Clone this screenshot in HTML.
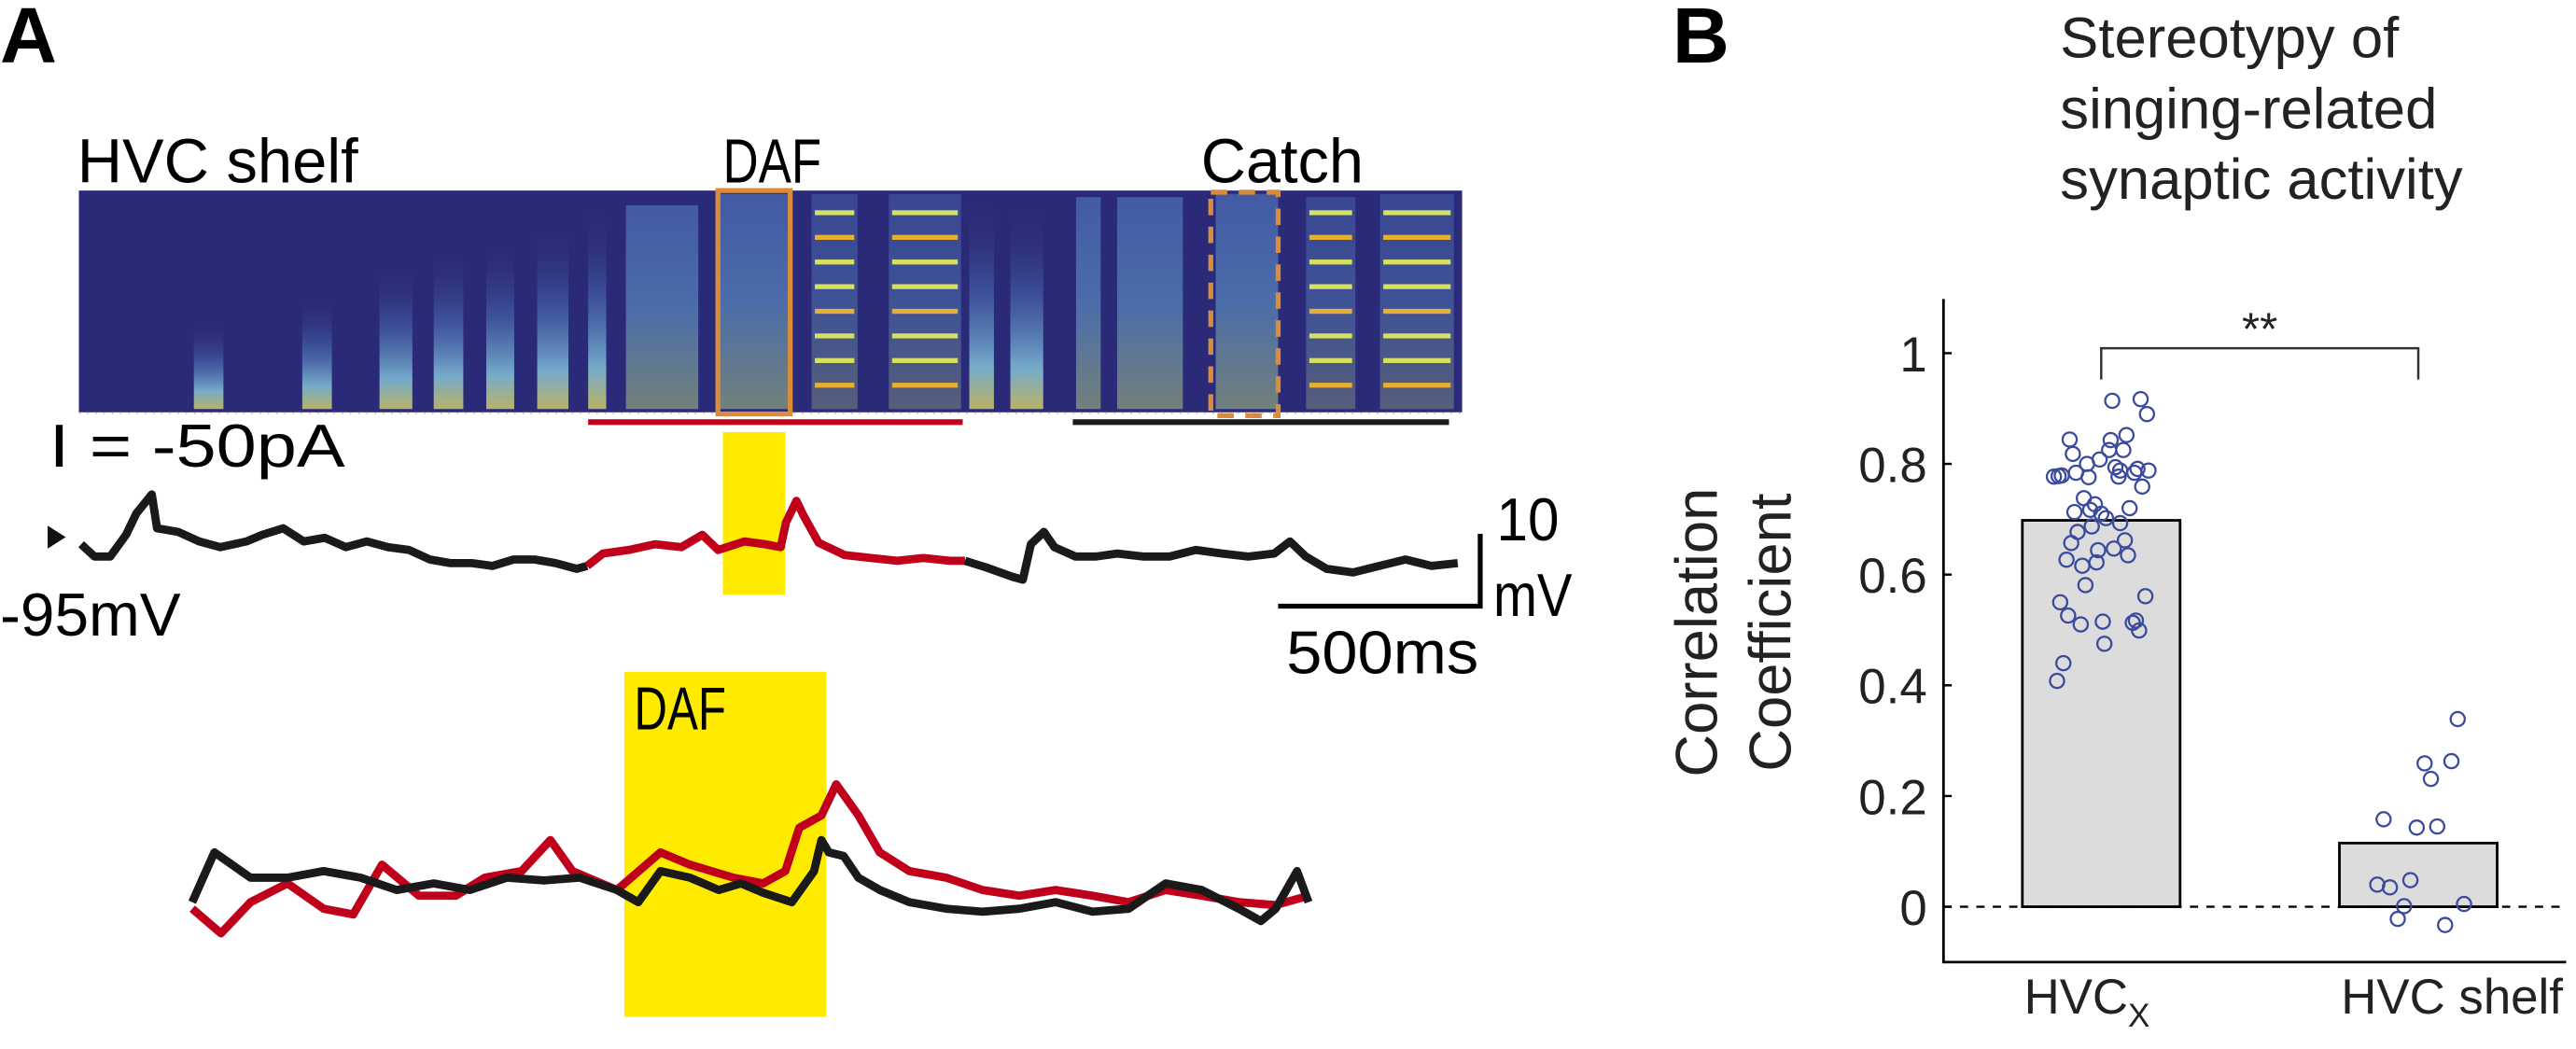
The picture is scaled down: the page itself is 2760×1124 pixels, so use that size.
<!DOCTYPE html>
<html><head><meta charset="utf-8"><style>
html,body{margin:0;padding:0;background:#fff;}
svg{display:block;font-family:"Liberation Sans",sans-serif;}
</style></head><body>
<svg id="fig" width="2760" height="1124" viewBox="0 0 1568 638.6" preserveAspectRatio="none" xmlns="http://www.w3.org/2000/svg">
<defs>
<linearGradient id="sylLow" x1="0" y1="1" x2="0" y2="0">
<stop offset="0" stop-color="#e8e060"/><stop offset="0.2" stop-color="#8fd6e6"/><stop offset="0.55" stop-color="#5a90d0" stop-opacity="0.5"/><stop offset="1" stop-color="#2b2a78" stop-opacity="0"/>
</linearGradient>
<linearGradient id="sylFull" x1="0" y1="1" x2="0" y2="0">
<stop offset="0" stop-color="#b8d880"/><stop offset="0.5" stop-color="#6ab0dc"/><stop offset="1" stop-color="#5a8ad0"/>
</linearGradient>
</defs>
<rect x="0" y="0" width="1568" height="638.6" fill="#fff"/>
<text x="0" y="38" font-size="48" font-weight="bold">A</text>
<text x="1018" y="38" font-size="48" font-weight="bold">B</text>
<text x="47" y="111" font-size="38" textLength="171" lengthAdjust="spacingAndGlyphs">HVC shelf</text>
<text x="440" y="111" font-size="38" textLength="60" lengthAdjust="spacingAndGlyphs">DAF</text>
<text x="731" y="111" font-size="38" textLength="99" lengthAdjust="spacingAndGlyphs">Catch</text>
<g id="spec"></g>
<line x1="48" y1="251.5" x2="890" y2="251.5" stroke="#bbb" stroke-width="1" stroke-dasharray="1,4"/>
<rect x="437" y="116" width="44" height="136" fill="none" stroke="#d98c3a" stroke-width="3"/>
<rect x="737" y="117" width="41" height="136" fill="none" stroke="#d98c3a" stroke-width="3" stroke-dasharray="10,7"/>
<line x1="358" y1="257" x2="586" y2="257" stroke="#c0001a" stroke-width="3.5"/>
<line x1="653" y1="257" x2="882" y2="257" stroke="#1a1a1a" stroke-width="3.5"/>
<text x="30" y="284" font-size="37" textLength="180" lengthAdjust="spacingAndGlyphs">I = -50pA</text>
<rect x="440" y="263" width="38" height="99" fill="#ffeb00"/>
<polygon points="29,320 40,327 29,334" fill="#111"/>
<text x="0" y="387" font-size="37" textLength="110" lengthAdjust="spacingAndGlyphs">-95mV</text>
<g id="mainTrace"></g>
<g>
<polyline points="778,369 901,369 901,325" fill="none" stroke="#000" stroke-width="3"/>
<text x="911" y="329" font-size="37" textLength="38" lengthAdjust="spacingAndGlyphs">10</text>
<text x="909" y="375" font-size="37" textLength="48" lengthAdjust="spacingAndGlyphs">mV</text>
<text x="783" y="410" font-size="37" textLength="117" lengthAdjust="spacingAndGlyphs">500ms</text>
</g>
<rect x="380" y="409" width="123" height="210" fill="#ffeb00"/>
<text x="386" y="444" font-size="37" textLength="56" lengthAdjust="spacingAndGlyphs">DAF</text>
<g id="overlay"></g>
<g id="panelB"></g>
</svg>
<script>
// ---------- Panel A data ----------
const mainBlack1T = [0,33,72,111,137,175,188,240,292,344,409,448,500,551,603,655,707,759,811,863,914,966,1018,1070,1122,1174,1226,1252];
const mainBlack1V = [-95.3,-97.0,-97.0,-94.0,-91.0,-88.4,-93.1,-93.6,-94.9,-95.7,-94.9,-94.0,-93.1,-94.9,-94.4,-95.7,-94.9,-95.7,-96.1,-97.4,-97.9,-97.9,-98.3,-97.4,-97.4,-97.9,-98.7,-98.3];
const mainRedT = [1252,1291,1355,1420,1485,1537,1576,1641,1692,1731,1744,1770,1787,1825,1889,1954,2019,2084,2149,2187];
const mainRedV = [-98.3,-96.6,-96.1,-95.3,-95.7,-94.0,-96.1,-94.9,-95.3,-95.7,-92.3,-89.3,-91.3,-95.1,-96.8,-97.2,-97.6,-97.2,-97.6,-97.6];
const mainBlack2T = [2187,2239,2304,2330,2350,2382,2408,2460,2511,2564,2629,2693,2758,2823,2888,2952,2991,3030,3082,3147,3212,3277,3341,3406];
const mainBlack2V = [-97.6,-98.5,-99.8,-100.2,-95.3,-93.6,-95.7,-97.0,-97.0,-96.6,-97.0,-97.0,-96.1,-96.6,-97.0,-96.6,-94.9,-97.0,-98.7,-99.2,-98.3,-97.4,-98.3,-97.9];
const overlayBlackT = [18,45,89,134,178,223,267,312,356,401,446,490,535,561,588,624,659,686,713,748,775,784,793,811,829,855,891,936,980,1025,1069,1114,1158,1203,1247,1292,1319,1337,1363,1377];
const overlayBlackV = [-2.1,4.8,1.3,1.3,2.2,1.3,-0.4,0.5,-0.4,1.3,0.9,1.3,-0.4,-2.1,2.2,1.3,-0.4,0.5,-0.8,-2.1,2.2,6.5,4.8,4.3,1.3,-0.4,-2.1,-3.0,-3.4,-3.0,-2.1,-3.4,-3.0,0.5,-0.4,-3.0,-4.7,-3.0,2.2,-2.1];
const overlayRedT = [18,53,89,134,178,214,249,294,339,374,419,454,481,535,588,624,677,713,740,757,784,802,829,855,891,936,980,1025,1069,1114,1158,1203,1247,1292,1337,1377];
const overlayRedV = [-3.0,-6.4,-2.1,0.5,-3.0,-3.8,3.1,-1.2,-1.2,1.3,2.2,6.5,2.2,-0.4,4.8,3.1,1.3,0.5,2.2,8.2,9.9,14.2,9.9,4.8,2.2,1.3,-0.4,-1.2,-0.4,-1.2,-2.1,-0.4,-1.2,-2.1,-2.5,-1.2];

const msPx = 0.246, mvPx = 4.4;
const xMain = t => 49.4 + t * msPx;
const yMain = v => 330 - (v + 95) * mvPx;
const xOv = t => 108 + t * 0.5;
const yOv = v => 540 - v * mvPx;

const NS = "http://www.w3.org/2000/svg";
function drawLine(g, T, V, fx, fy, color, w, name) {
  const p = document.createElementNS(NS, "polyline");
  p.setAttribute("points", T.map((t, i) => fx(t).toFixed(1) + "," + fy(V[i]).toFixed(1)).join(" "));
  p.setAttribute("fill", "none");
  p.setAttribute("stroke", color);
  p.setAttribute("stroke-width", w);
  p.setAttribute("stroke-linejoin", "round");
  
  
  g.appendChild(p);
}
const mg = document.getElementById("mainTrace");
drawLine(mg, mainBlack1T, mainBlack1V, xMain, yMain, "#1a1a1a", 5, "trace-pre-daf");
drawLine(mg, mainRedT, mainRedV, xMain, yMain, "#c0001a", 5, "trace-daf");
drawLine(mg, mainBlack2T, mainBlack2V, xMain, yMain, "#1a1a1a", 5, "trace-catch");
const og = document.getElementById("overlay");
drawLine(og, overlayRedT, overlayRedV, xOv, yOv, "#c0001a", 5, "overlay-daf-trace");
drawLine(og, overlayBlackT, overlayBlackV, xOv, yOv, "#1a1a1a", 5, "overlay-catch-trace");

// spectrogram syllables
const sylStart = [118,184,231,264,296,327,358,381,438,494,541,590,615,655,680,740,795,840];
const sylEnd   = [136,202,251,282,313,346,369,425,480,522,585,605,635,670,720,778,825,885];
const sylTop   = [195,180,160,150,145,135,125,125,118,118,118,120,125,120,120,118,120,118];
const sylType  = ["low","low","low","low","low","low","low","full","full","harm","harm","low","low","full","full","full","harm","harm"];
const sg = document.getElementById("spec");
const bg = document.createElementNS(NS, "rect");
bg.setAttribute("x", 48); bg.setAttribute("y", 116); bg.setAttribute("width", 842); bg.setAttribute("height", 135);
bg.setAttribute("fill", "#2b2a78");


sg.appendChild(bg);
sylStart.forEach((s, i) => {
  const r = document.createElementNS(NS, "rect");
  r.setAttribute("x", s); r.setAttribute("y", sylTop[i]);
  r.setAttribute("width", sylEnd[i] - s); r.setAttribute("height", 249 - sylTop[i]);
  r.setAttribute("fill", sylType[i] === "low" ? "url(#sylLow)" : "url(#sylFull)");
  r.setAttribute("opacity", sylType[i] === "low" ? "0.75" : (sylType[i] === "harm" ? "0.3" : "0.5"));
  
  
  sg.appendChild(r);
  if (sylType[i] === "harm") {
    for (let k = 0; k < 8; k++) {
      const l = document.createElementNS(NS, "rect");
      l.setAttribute("x", s + 2); l.setAttribute("y", 128 + k * 15);
      l.setAttribute("width", sylEnd[i] - s - 4); l.setAttribute("height", 3);
      l.setAttribute("fill", k % 3 === 1 ? "#e8b030" : "#d8e060");
      
      
      sg.appendChild(l);
    }
  }
});

// ---------- Panel B data ----------
const groupNames = ["HVCx", "HVC shelf"];
const groupMeans = [0.698, 0.115];
const hvcxValues = [0.914,0.917,0.890,0.844,0.818,0.843,0.852,0.825,0.825,0.800,0.808,0.777,0.778,0.779,0.784,0.776,0.794,0.788,0.777,0.791,0.784,0.788,0.759,0.738,0.727,0.713,0.717,0.710,0.702,0.720,0.693,0.687,0.677,0.657,0.627,0.616,0.622,0.644,0.647,0.662,0.635,0.581,0.561,0.550,0.526,0.510,0.515,0.513,0.517,0.499,0.475,0.440,0.408];
const hvcxJitter = [0.07,0.25,0.29,-0.20,-0.18,0.06,0.16,0.05,0.14,-0.09,-0.01,-0.30,-0.27,-0.25,-0.16,-0.08,0.09,0.12,0.11,0.23,0.21,0.30,0.26,-0.11,-0.04,-0.17,-0.07,0.00,0.03,0.18,0.12,-0.06,-0.15,-0.19,-0.22,-0.12,-0.03,-0.02,0.08,0.15,0.17,-0.10,0.28,-0.26,-0.21,-0.13,0.01,0.20,0.22,0.24,0.02,-0.24,-0.28];
const shelfValues = [0.339,0.259,0.263,0.231,0.158,0.143,0.145,0.040,0.035,0.048,0.001,0.005,-0.022,-0.033];
const shelfJitter = [0.25,0.04,0.21,0.08,-0.22,-0.01,0.12,-0.26,-0.18,-0.05,-0.09,0.29,-0.13,0.17];
const yTicks = [0, 0.2, 0.4, 0.6, 0.8, 1];
const yTickLabels = ["0", "0.2", "0.4", "0.6", "0.8", "1"];

const yB = v => 552 - v * 337;
const barCenter = [1279, 1472];
const barW = 96;
const xB = (g, j) => barCenter[g] + j * barW;
const pb = document.getElementById("panelB");
function el(tag, attrs, parent) {
  const e = document.createElementNS(NS, tag);
  for (const k in attrs) e.setAttribute(k, attrs[k]);
  parent.appendChild(e);
  return e;
}
["Stereotypy of", "singing-related", "synaptic activity"].forEach((t, i) => {
  const tx = el("text", {x: 1254, y: 35 + i * 43, "font-size": 35, fill: "#222"}, pb);
  tx.textContent = t;
  
  
});
const yl = el("text", {transform: "translate(1045,385) rotate(-90)", "text-anchor": "middle", "font-size": 36, fill: "#222"}, pb);
yl.textContent = "Correlation";


const yl2 = el("text", {transform: "translate(1090,385) rotate(-90)", "text-anchor": "middle", "font-size": 36, fill: "#222"}, pb);
yl2.textContent = "Coefficient";


groupMeans.forEach((m, g) => {
  const b = el("rect", {x: barCenter[g] - barW / 2, y: yB(m), width: barW, height: yB(0) - yB(m), fill: "#dcdcdc", stroke: "#000", "stroke-width": 1.6}, pb);
  
  
});
const zl = el("line", {x1: 1183, x2: 1562, y1: yB(0), y2: yB(0), stroke: "#000", "stroke-width": 1.3, "stroke-dasharray": "5,5"}, pb);


const ax = el("polyline", {points: "1183,182 1183," + yB(-0.1) + " 1562," + yB(-0.1), fill: "none", stroke: "#000", "stroke-width": 1.6}, pb);


yTicks.forEach((v, i) => {
  const t = el("line", {x1: 1183, x2: 1188, y1: yB(v), y2: yB(v), stroke: "#000", "stroke-width": 1.4}, pb);
  
  
  const lb = el("text", {x: 1173, y: yB(v) + 11, "text-anchor": "end", "font-size": 30, fill: "#222"}, pb);
  lb.textContent = yTickLabels[i];
  
  
});
const xl1 = el("text", {x: 1232, y: 617, "font-size": 30, fill: "#222"}, pb);
xl1.innerHTML = 'HVC<tspan font-size="20" dy="8">X</tspan>';


const xl2 = el("text", {x: 1425, y: 617, "font-size": 30, fill: "#222"}, pb);
xl2.textContent = groupNames[1];


function drawPts(vals, jit, g, name) {
  vals.forEach((v, i) => {
    const c = el("circle", {cx: xB(g, jit[i]), cy: yB(v), r: 4.3, fill: "none", stroke: "#3a4a9c", "stroke-width": 1.3}, pb);
    
    
  });
}
drawPts(hvcxValues, hvcxJitter, 0, 'point-hvcx');
drawPts(shelfValues, shelfJitter, 1, 'point-hvc-shelf');
const br = el("polyline", {points: barCenter[0] + ",231 " + barCenter[0] + ",212 " + barCenter[1] + ",212 " + barCenter[1] + ",231", fill: "none", stroke: "#333", "stroke-width": 1.4}, pb);


const st = el("text", {x: (barCenter[0] + barCenter[1]) / 2, y: 210, "text-anchor": "middle", "font-size": 28, fill: "#222"}, pb);
st.textContent = "**";


</script>
</body></html>
